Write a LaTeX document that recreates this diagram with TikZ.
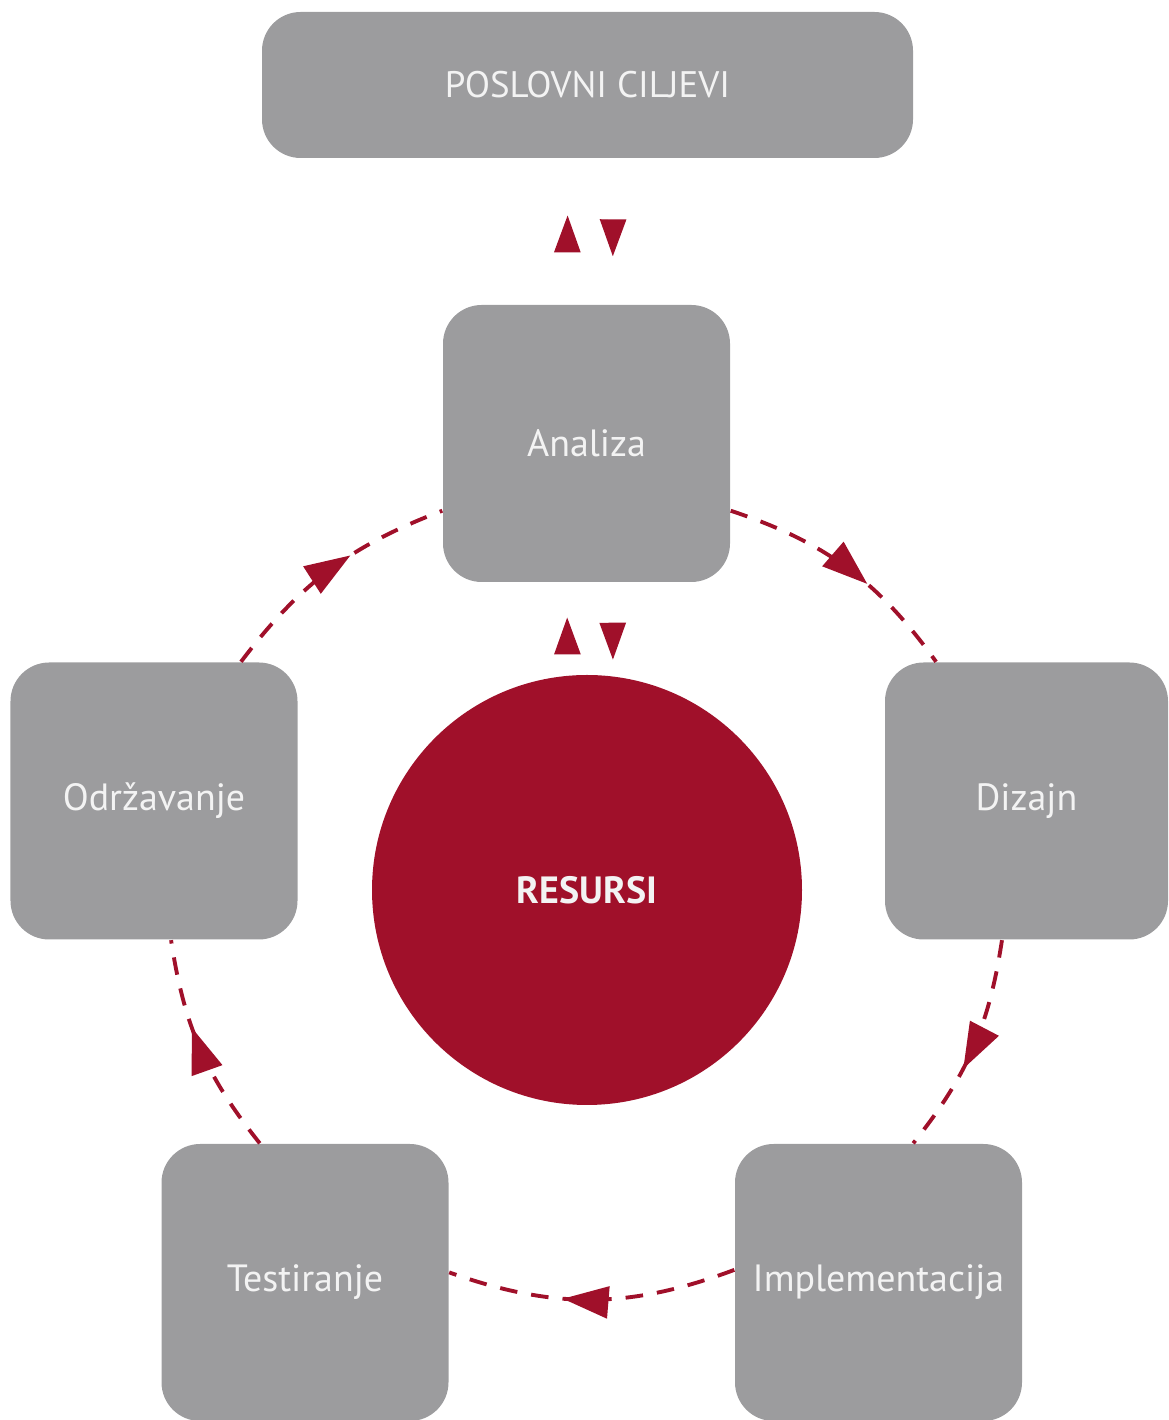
\documentclass[tikz,border=0pt]{standalone}
\usepackage{fontspec}
\setmainfont{PT Sans}
\usepackage{xcolor}
\usetikzlibrary{arrows.meta,decorations.markings}

\definecolor{boxgray}{RGB}{156,156,158}
\definecolor{resred}{RGB}{160,16,42}
\definecolor{boxtext}{RGB}{243,243,243}

\begin{document}
\begin{tikzpicture}[
				font=\fontsize{10.8}{13}\selectfont,
				>=Stealth,
				stage/.style={
					rectangle, rounded corners=11pt,
					fill=boxgray, text=boxtext,
					minimum width=2.87cm, minimum height=2.77cm,
					inner sep=0pt
				},
				goal/.style={
					stage, minimum width=6.51cm, minimum height=1.46cm,
					font=\fontsize{10.5}{13}\selectfont
				},
				core/.style={
					circle, fill=resred, text=boxtext,
					minimum size=4.30cm, inner sep=0pt,
					font=\fontsize{10.8}{13}\selectfont\bfseries
				},
				cyc/.style={
					draw=resred, line width=1.1pt,
					dash pattern=on 5pt off 4pt,
					postaction={decorate},
					decoration={markings, mark=at position 0.6 with
						{\arrow{Triangle[length=13pt,width=9pt]}}}
				},
				pairtip/.style={
					color=resred,
					postaction={decorate},
					decoration={markings, mark=at position #1 with
						{\arrow{Triangle[length=10.5pt,width=7.5pt]}}}
				}
				]
				\useasboundingbox (0,0) rectangle (11.68,14.2);
				
				%% ─── GOAL AND CYCLE STAGES ──────────────────────────────────────────────
				\node[goal] (ciljevi) at (5.875,13.35) {POSLOVNI CILJEVI};
				\node[stage] (analiza) at (5.865,9.765) {Analiza};
				\node[stage, minimum width=2.83cm] (dizajn) at (10.265,6.19) {Dizajn};
				\node[stage] (implementacija) at (8.785,1.375) {Implementacija};
				\node[stage] (testiranje) at (3.05,1.375) {Testiranje};
				\node[stage] (odrzavanje) at (1.54,6.19) {Održavanje};
				\node[core] (resursi) at (5.87,5.30) {RESURSI};
				
				%% ─── TWO-WAY LINKS ──────────────────────────────────────────────────────
				\path[pairtip=0.61] ([xshift=-1.95mm]analiza.north) -- ([xshift=-1.95mm]ciljevi.south);
				\path[pairtip=0.67] ([xshift=2.6mm]ciljevi.south) -- ([xshift=2.6mm]analiza.north);
				\path[pairtip=0.62] ([xshift=-1.95mm]resursi.north) -- ([xshift=-1.95mm]analiza.south);
				\path[pairtip=0.84] ([xshift=2.6mm]analiza.south) -- ([xshift=2.6mm]resursi.north);
				
				%% ─── CYCLE ──────────────────────────────────────────────────────────────
				\draw[cyc] (analiza.-25) to[bend left=18] (dizajn.123);
				\draw[cyc] (dizajn.-100) to[bend left=15] (implementacija.76);
				\draw[cyc] (implementacija.175) to[bend left=20] (testiranje.4);
				\draw[cyc] (testiranje.108) to[bend left=15] (odrzavanje.-83);
				\draw[cyc] (odrzavanje.58) to[bend left=16] (analiza.205);
				
\end{tikzpicture}
\end{document}
